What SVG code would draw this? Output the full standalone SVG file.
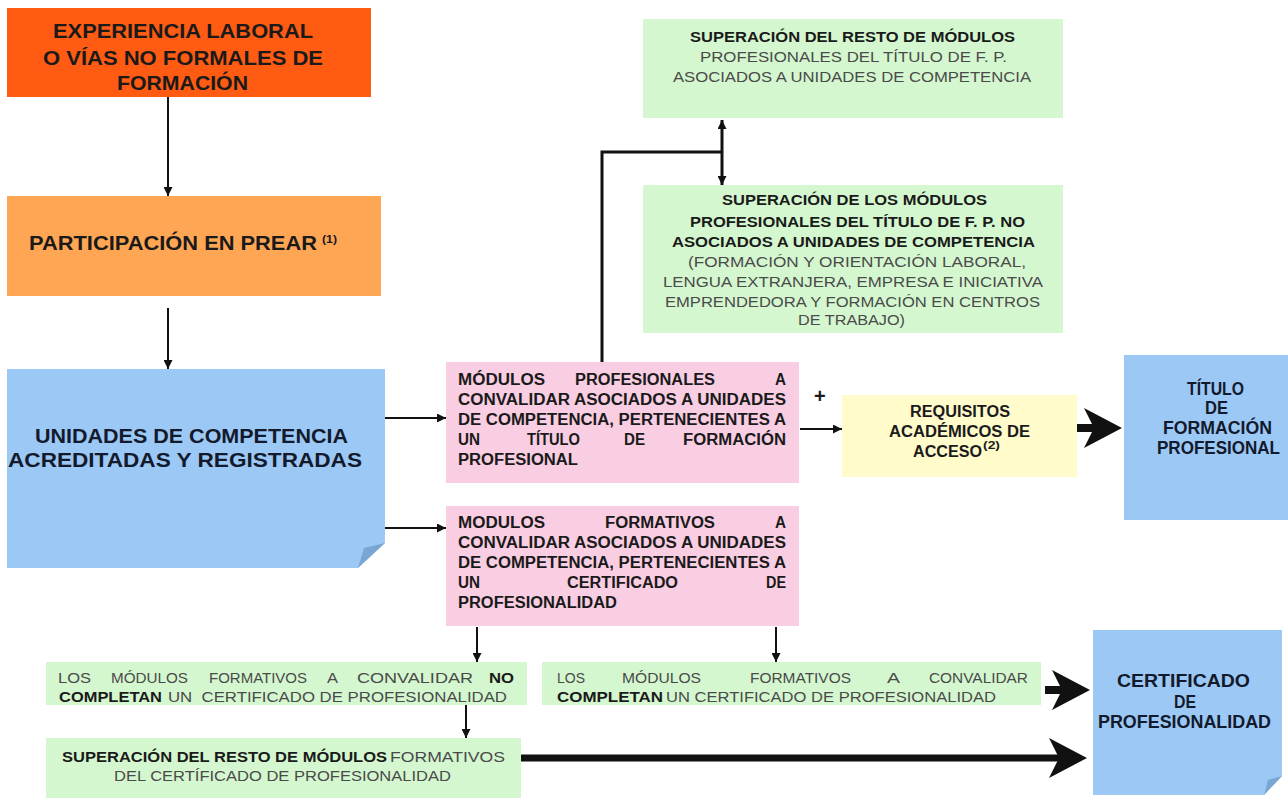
<svg xmlns="http://www.w3.org/2000/svg" width="1288" height="798" viewBox="0 0 1288 798">
<style>
text{font-family:"Liberation Sans",Arial,sans-serif;}
.b{font-weight:bold;fill:#1a1a1a;}
.r{fill:#4a4a4a;}
.t21{font-size:21px;}
.t16{font-size:16px;}
.t15{font-size:15px;}
.t14{font-size:14px;}
.t18{font-size:18px;}
.sup{font-size:10px;font-weight:bold;fill:#1a1a1a;}
.navy{fill:#121a2c;}
.blue{fill:#9cc8f6;}
.fold{fill:#7aa6d4;}
.green{fill:#d4f7cf;}
.pink{fill:#f9cde2;}
.thin{fill:none;stroke:#111;stroke-width:2;}
.thick{fill:none;stroke:#111;stroke-width:8;}
</style>
<defs>
<marker id="ah" viewBox="0 0 9 9" refX="9" refY="4.5" markerWidth="9" markerHeight="9" markerUnits="userSpaceOnUse" orient="auto-start-reverse">
<path d="M0,0 L9,4.5 L0,9 z" fill="#111"/>
</marker>
<marker id="big" viewBox="0 0 38 40" refX="14" refY="20" markerWidth="38" markerHeight="40" markerUnits="userSpaceOnUse" orient="auto">
<path d="M0,0 L38,20 L0,40 L10,20 z" fill="#111"/>
</marker>
</defs>
<rect width="1288" height="798" fill="#ffffff"/>

<g id="connectors">
<path class="thin" d="M168,97 V196" marker-end="url(#ah)"/>
<path class="thin" d="M168,308 V369" marker-end="url(#ah)"/>
<path class="thin" d="M385,418 H446" marker-end="url(#ah)"/>
<path class="thin" d="M385,528 H446" marker-end="url(#ah)"/>
<path class="thin" d="M800,429 H842" marker-end="url(#ah)"/>
<path class="thin" d="M477,627 V662" marker-end="url(#ah)"/>
<path class="thin" d="M776,627 V662" marker-end="url(#ah)"/>
<path class="thin" d="M466,705 V738" marker-end="url(#ah)"/>
<path class="thin" style="stroke-width:3" d="M722,120 V185" marker-start="url(#ah)" marker-end="url(#ah)"/>
<path class="thin" style="stroke-width:3" d="M602,362 V152 H722"/>
<path class="thick" d="M1073,428 H1098" marker-end="url(#big)"/>
<path class="thick" d="M1045,690 H1066" marker-end="url(#big)"/>
<path class="thick" style="stroke-width:7" d="M521,758 H1063" marker-end="url(#big)"/>
<text class="b" style="font-size:20px" x="814" y="403">+</text>
</g>

<g id="experiencia">
<rect x="7" y="8" width="364" height="89" fill="#ff5b12"/>
<text class="b t21" x="53" y="38" textLength="260" lengthAdjust="spacingAndGlyphs">EXPERIENCIA LABORAL</text>
<text class="b t21" x="43" y="65" textLength="280" lengthAdjust="spacingAndGlyphs">O VÍAS NO FORMALES DE</text>
<text class="b t21" x="117" y="90" textLength="131" lengthAdjust="spacingAndGlyphs">FORMACIÓN</text>
</g>

<g id="prear">
<rect x="7" y="196" width="374" height="100" fill="#ffa654"/>
<text class="b t21" x="29" y="250" textLength="288" lengthAdjust="spacingAndGlyphs">PARTICIPACIÓN EN PREAR</text>
<text class="sup" x="322" y="243" textLength="15" lengthAdjust="spacingAndGlyphs">(1)</text>
</g>

<g id="unidades">
<polygon class="blue" points="7,369 385,369 385,543 358,568 7,568"/>
<polygon class="fold" points="358,568 385,543 364,548"/>
<text class="b t21 navy" x="35" y="443" textLength="313" lengthAdjust="spacingAndGlyphs">UNIDADES DE COMPETENCIA</text>
<text class="b t21 navy" x="8" y="467" textLength="354" lengthAdjust="spacingAndGlyphs">ACREDITADAS Y REGISTRADAS</text>
</g>

<g id="resto-modulos">
<rect class="green" x="643" y="19" width="420" height="99"/>
<text class="b t14" x="690" y="42" textLength="325" lengthAdjust="spacingAndGlyphs">SUPERACIÓN DEL RESTO DE MÓDULOS</text>
<text class="r t14" x="700" y="62" textLength="307" lengthAdjust="spacingAndGlyphs">PROFESIONALES DEL TÍTULO DE F. P.</text>
<text class="r t14" x="673" y="82" textLength="358" lengthAdjust="spacingAndGlyphs">ASOCIADOS A UNIDADES DE COMPETENCIA</text>
</g>

<g id="no-asociados">
<rect class="green" x="643" y="185" width="420" height="148"/>
<text class="b t14" x="722" y="205" textLength="265" lengthAdjust="spacingAndGlyphs">SUPERACIÓN DE LOS MÓDULOS</text>
<text class="b t14" x="690" y="227" textLength="335" lengthAdjust="spacingAndGlyphs">PROFESIONALES DEL TÍTULO DE F. P. NO</text>
<text class="b t14" x="672" y="247" textLength="363" lengthAdjust="spacingAndGlyphs">ASOCIADOS A UNIDADES DE COMPETENCIA</text>
<text class="r t14" x="688" y="267" textLength="338" lengthAdjust="spacingAndGlyphs">(FORMACIÓN Y ORIENTACIÓN LABORAL,</text>
<text class="r t14" x="663" y="287" textLength="380" lengthAdjust="spacingAndGlyphs">LENGUA EXTRANJERA, EMPRESA E INICIATIVA</text>
<text class="r t14" x="665" y="307" textLength="375" lengthAdjust="spacingAndGlyphs">EMPRENDEDORA Y FORMACIÓN EN CENTROS</text>
<text class="r t14" x="798" y="325" textLength="107" lengthAdjust="spacingAndGlyphs">DE TRABAJO)</text>
</g>

<g id="modulos-profesionales">
<rect class="pink" x="446" y="362" width="353" height="121"/>
<text class="b t16" x="458" y="385" textLength="87" lengthAdjust="spacingAndGlyphs">MÓDULOS</text>
<text class="b t16" x="575" y="385" textLength="140" lengthAdjust="spacingAndGlyphs">PROFESIONALES</text>
<text class="b t16" x="775" y="385" textLength="11" lengthAdjust="spacingAndGlyphs">A</text>
<text class="b t16" x="458" y="405" textLength="328" lengthAdjust="spacingAndGlyphs">CONVALIDAR ASOCIADOS A UNIDADES</text>
<text class="b t16" x="458" y="425" textLength="328" lengthAdjust="spacingAndGlyphs">DE COMPETENCIA, PERTENECIENTES A</text>
<text class="b t16" x="458" y="445" textLength="22" lengthAdjust="spacingAndGlyphs">UN</text>
<text class="b t16" x="527" y="445" textLength="53" lengthAdjust="spacingAndGlyphs">TÍTULO</text>
<text class="b t16" x="624" y="445" textLength="21" lengthAdjust="spacingAndGlyphs">DE</text>
<text class="b t16" x="683" y="445" textLength="103" lengthAdjust="spacingAndGlyphs">FORMACIÓN</text>
<text class="b t16" x="458" y="465" textLength="120" lengthAdjust="spacingAndGlyphs">PROFESIONAL</text>
</g>

<g id="modulos-formativos">
<rect class="pink" x="446" y="506" width="353" height="120"/>
<text class="b t16" x="458" y="528" textLength="87" lengthAdjust="spacingAndGlyphs">MODULOS</text>
<text class="b t16" x="605" y="528" textLength="110" lengthAdjust="spacingAndGlyphs">FORMATIVOS</text>
<text class="b t16" x="775" y="528" textLength="11" lengthAdjust="spacingAndGlyphs">A</text>
<text class="b t16" x="458" y="548" textLength="328" lengthAdjust="spacingAndGlyphs">CONVALIDAR ASOCIADOS A UNIDADES</text>
<text class="b t16" x="458" y="568" textLength="328" lengthAdjust="spacingAndGlyphs">DE COMPETENCIA, PERTENECIENTES A</text>
<text class="b t16" x="458" y="588" textLength="22" lengthAdjust="spacingAndGlyphs">UN</text>
<text class="b t16" x="567" y="588" textLength="111" lengthAdjust="spacingAndGlyphs">CERTIFICADO</text>
<text class="b t16" x="766" y="588" textLength="20" lengthAdjust="spacingAndGlyphs">DE</text>
<text class="b t16" x="458" y="608" textLength="159" lengthAdjust="spacingAndGlyphs">PROFESIONALIDAD</text>
</g>

<g id="requisitos">
<rect x="842" y="395" width="235" height="82" fill="#fffbcb"/>
<text class="b t16" x="910" y="417" textLength="100" lengthAdjust="spacingAndGlyphs">REQUISITOS</text>
<text class="b t16" x="889" y="437" textLength="141" lengthAdjust="spacingAndGlyphs">ACADÉMICOS DE</text>
<text class="b t16" x="913" y="457" textLength="69" lengthAdjust="spacingAndGlyphs">ACCESO</text>
<text class="sup" x="983" y="449" textLength="17" lengthAdjust="spacingAndGlyphs">(2)</text>
</g>

<g id="titulo">
<rect class="blue" x="1124" y="355" width="164" height="165"/>
<text class="b t18 navy" x="1187" y="395" textLength="57" lengthAdjust="spacingAndGlyphs">TÍTULO</text>
<text class="b t18 navy" x="1205" y="414" textLength="23" lengthAdjust="spacingAndGlyphs">DE</text>
<text class="b t18 navy" x="1163" y="434" textLength="109" lengthAdjust="spacingAndGlyphs">FORMACIÓN</text>
<text class="b t18 navy" x="1157" y="454" textLength="123" lengthAdjust="spacingAndGlyphs">PROFESIONAL</text>
</g>

<g id="no-completan">
<rect class="green" x="46" y="662" width="481" height="43"/>
<text class="r t15" x="58" y="683" textLength="33" lengthAdjust="spacingAndGlyphs">LOS</text>
<text class="r t15" x="111" y="683" textLength="77" lengthAdjust="spacingAndGlyphs">MÓDULOS</text>
<text class="r t15" x="209" y="683" textLength="98" lengthAdjust="spacingAndGlyphs">FORMATIVOS</text>
<text class="r t15" x="327" y="683" textLength="11" lengthAdjust="spacingAndGlyphs">A</text>
<text class="r t15" x="357" y="683" textLength="116" lengthAdjust="spacingAndGlyphs">CONVALIDAR</text>
<text class="b t15" x="489" y="683" textLength="25" lengthAdjust="spacingAndGlyphs">NO</text>
<text class="b t15" x="59" y="702" textLength="103" lengthAdjust="spacingAndGlyphs">COMPLETAN</text>
<text class="r t15" x="168" y="702" textLength="339" lengthAdjust="spacingAndGlyphs" xml:space="preserve">UN  CERTIFICADO DE PROFESIONALIDAD</text>
</g>

<g id="completan">
<rect class="green" x="542" y="662" width="499" height="43"/>
<text class="r t15" x="557" y="683" textLength="28" lengthAdjust="spacingAndGlyphs">LOS</text>
<text class="r t15" x="622" y="683" textLength="79" lengthAdjust="spacingAndGlyphs">MÓDULOS</text>
<text class="r t15" x="750" y="683" textLength="101" lengthAdjust="spacingAndGlyphs">FORMATIVOS</text>
<text class="r t15" x="887" y="683" textLength="13" lengthAdjust="spacingAndGlyphs">A</text>
<text class="r t15" x="929" y="683" textLength="99" lengthAdjust="spacingAndGlyphs">CONVALIDAR</text>
<text class="b t15" x="557" y="702" textLength="106" lengthAdjust="spacingAndGlyphs">COMPLETAN</text>
<text class="r t15" x="666" y="702" textLength="330" lengthAdjust="spacingAndGlyphs">UN CERTIFICADO DE PROFESIONALIDAD</text>
</g>

<g id="resto-formativos">
<rect class="green" x="46" y="738" width="475" height="60"/>
<text class="b t15" x="62" y="762" textLength="325" lengthAdjust="spacingAndGlyphs">SUPERACIÓN DEL RESTO DE MÓDULOS</text>
<text class="r t15" x="390" y="762" textLength="115" lengthAdjust="spacingAndGlyphs">FORMATIVOS</text>
<text class="r t15" x="114" y="781" textLength="337" lengthAdjust="spacingAndGlyphs">DEL CERTÍFICADO DE PROFESIONALIDAD</text>
</g>

<g id="certificado">
<polygon class="blue" points="1093,630 1282,630 1282,776 1264,795 1093,795"/>
<polygon class="fold" points="1264,795 1282,776 1268,780"/>
<text class="b t18 navy" x="1117" y="687" textLength="133" lengthAdjust="spacingAndGlyphs">CERTIFICADO</text>
<text class="b t18 navy" x="1174" y="708" textLength="22" lengthAdjust="spacingAndGlyphs">DE</text>
<text class="b t18 navy" x="1098" y="728" textLength="173" lengthAdjust="spacingAndGlyphs">PROFESIONALIDAD</text>
</g>
</svg>
